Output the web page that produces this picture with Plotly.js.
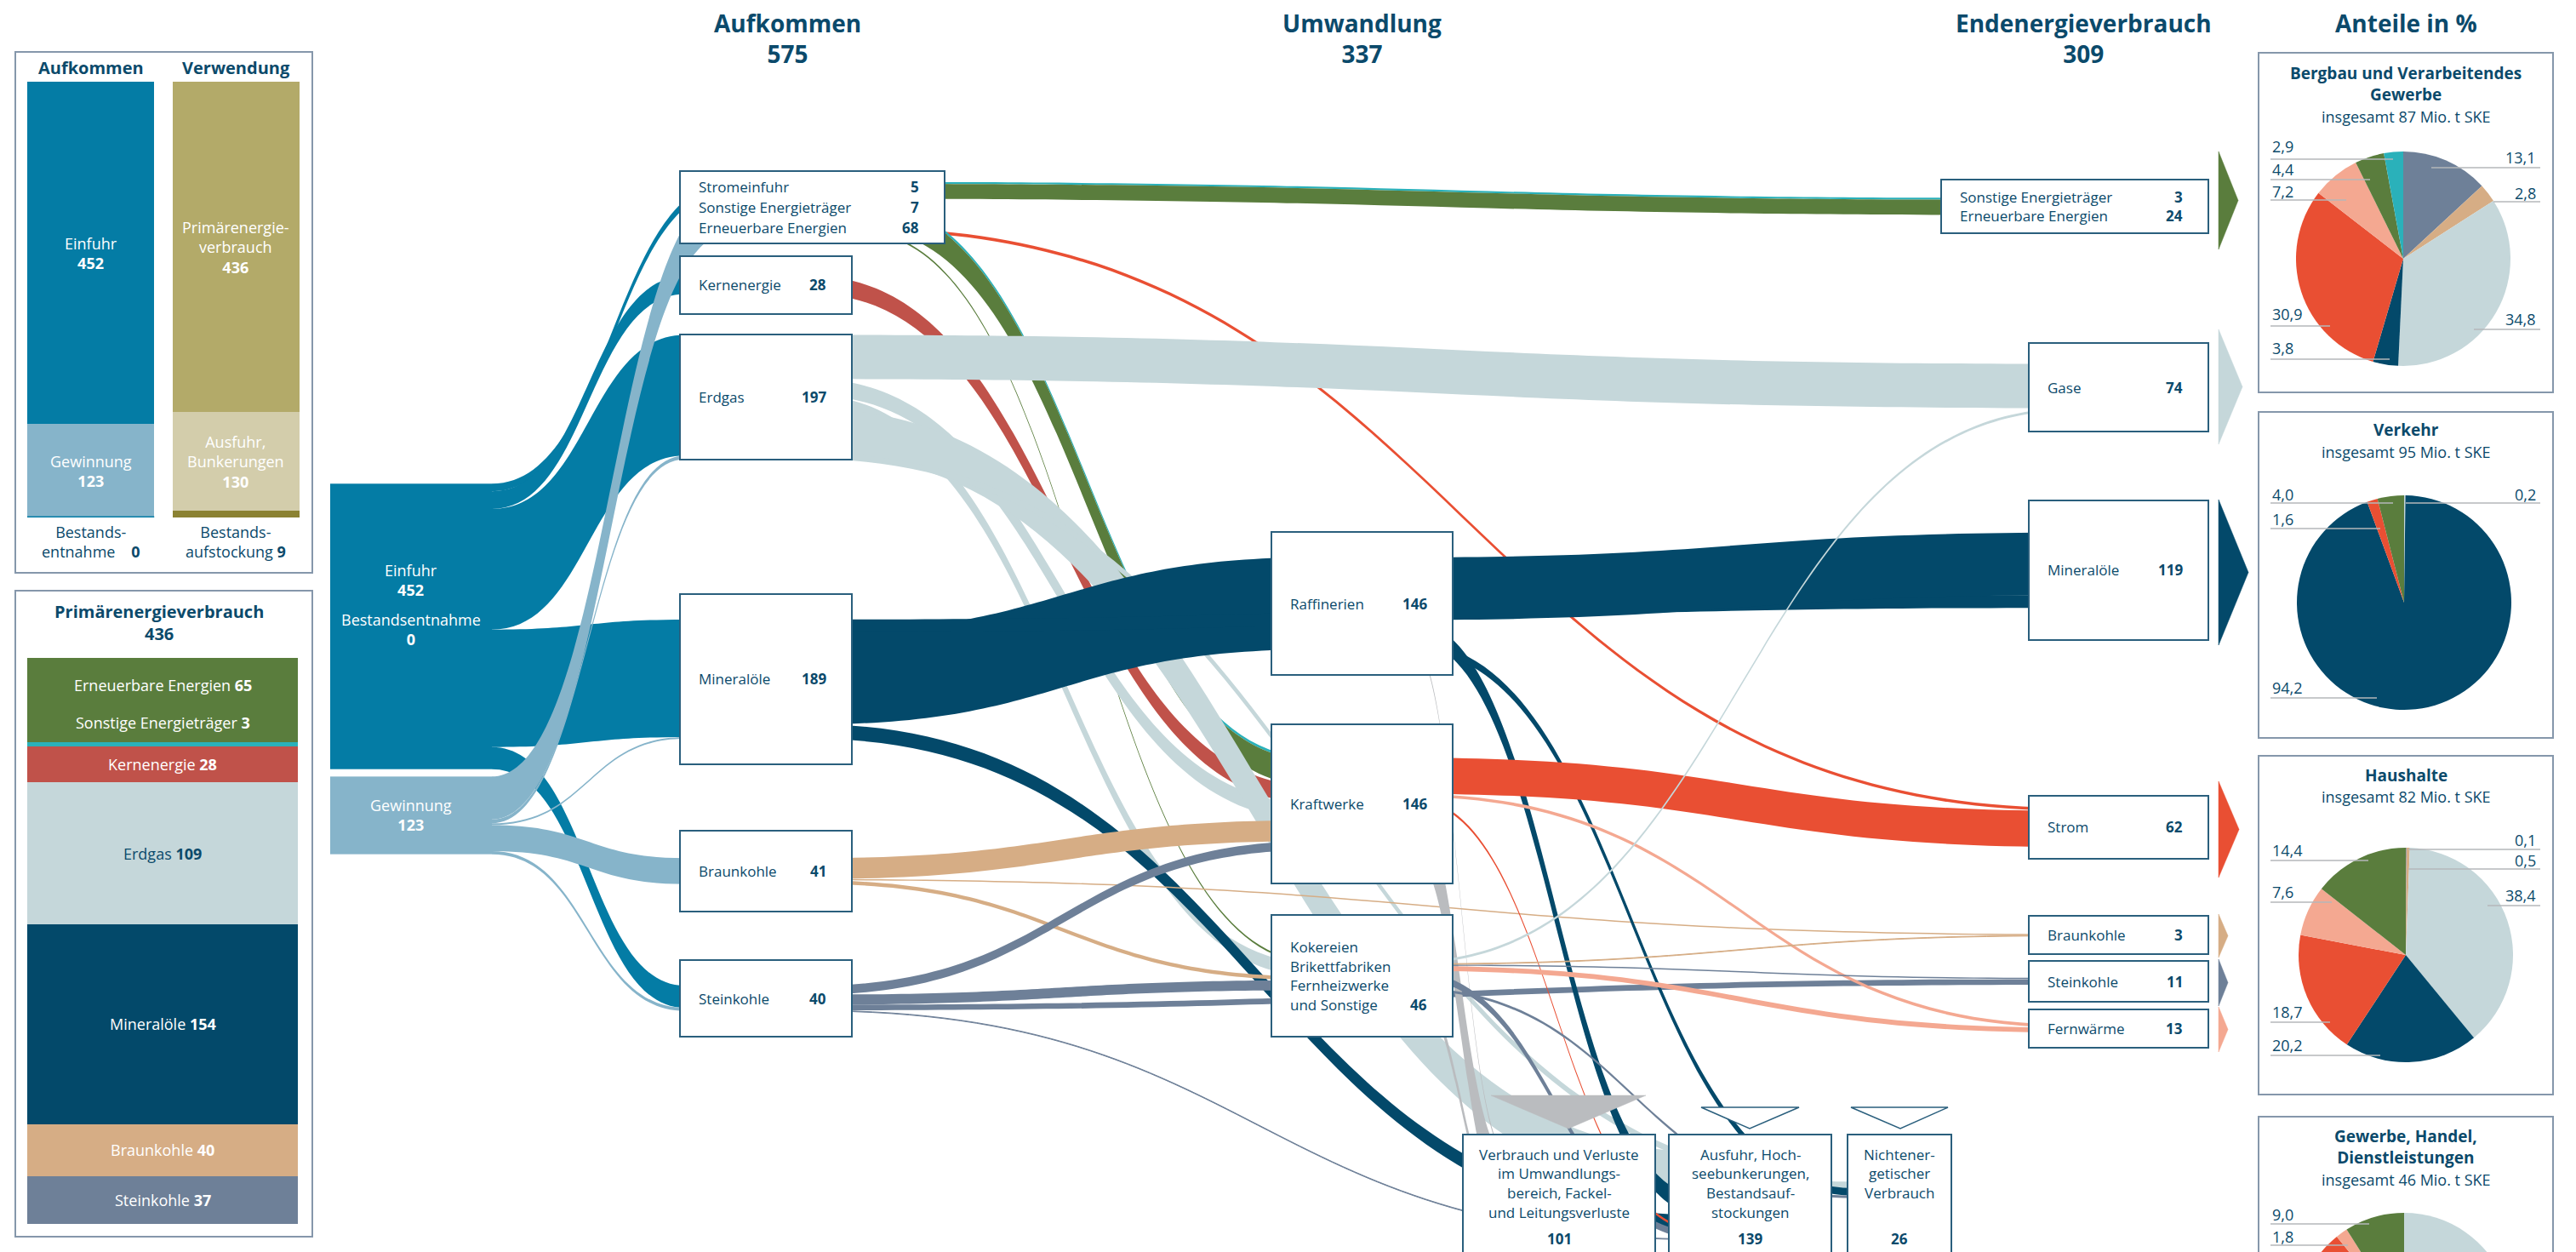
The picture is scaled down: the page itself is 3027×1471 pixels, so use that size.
<!DOCTYPE html>
<html><head><meta charset="utf-8">
<script src="https://cdn.plot.ly/plotly-3.0.1.min.js"></script>
<style>
html,body{margin:0;padding:0;background:#fff;overflow:hidden;}
#wrap{width:3027px;height:1471px;overflow:hidden;position:relative;}
#chart{width:3027px;height:1750px;}
</style></head>
<body><div id="wrap"><div id="chart"></div></div>
<script>
// ================= DATA (Mio. t SKE) =================
const balanceCats   = ['Aufkommen', 'Verwendung'];
const balanceBottom = [0, 9];        // Bestandsentnahme | Bestandsaufstockung
const balanceMiddle = [123, 130];    // Gewinnung | Ausfuhr, Bunkerungen
const balanceTop    = [452, 436];    // Einfuhr | Primärenergieverbrauch

const pevCarriers = ['Steinkohle','Braunkohle','Mineralöle','Erdgas','Kernenergie','Sonstige Energieträger','Erneuerbare Energien'];
const pevValues   = [37, 40, 154, 109, 28, 3, 65];
const pevTotal    = 436;

const stageTitles = ['Aufkommen','Umwandlung','Endenergieverbrauch'];
const stageTotals = [575, 337, 309];

const sourceLabels = ['Einfuhr','Gewinnung'];
const sourceValues = [452, 123];
const stockWithdrawal = 0;

const supplyLabels  = ['Stromeinfuhr','Sonstige Energieträger','Erneuerbare Energien'];
const supplyValues  = [5, 7, 68];
const primaryLabels = ['Kernenergie','Erdgas','Mineralöle','Braunkohle','Steinkohle'];
const primaryValues = [28, 197, 189, 41, 40];
const conversionLabels = ['Raffinerien','Kraftwerke','Kokereien\nBrikettfabriken\nFernheizwerke\nund Sonstige'];
const conversionValues = [146, 146, 46];
const finalMixLabels = ['Sonstige Energieträger','Erneuerbare Energien'];
const finalMixValues = [3, 24];
const finalLabels = ['Gase','Mineralöle','Strom','Braunkohle','Steinkohle','Fernwärme'];
const finalValues = [74, 119, 62, 3, 11, 13];
const otherUseLabels = ['Verbrauch und Verluste\nim Umwandlungs-\nbereich, Fackel-\nund Leitungsverluste',
                        'Ausfuhr, Hoch-\nseebunkerungen,\nBestandsauf-\nstockungen',
                        'Nichtener-\ngetischer\nVerbrauch'];
const otherUseValues = [101, 139, 26];

// energy flows
const flowFrom = ['einfuhr','einfuhr','einfuhr','einfuhr','einfuhr',
  'gewinnung','gewinnung','gewinnung','gewinnung','gewinnung',
  'box','box','box','box','box','box','kern',
  'erdgas','erdgas','erdgas','erdgas','erdgas',
  'mineral','mineral','mineral',
  'braun','braun','braun',
  'stein','stein','stein','stein',
  'raff','raff','raff','raff',
  'kraft','kraft','kraft','kraft',
  'kok','kok','kok','kok','kok','kok','kok'];
const flowTo = ['box','kern','erdgas','mineral','stein',
  'box','erdgas','mineral','braun','stein',
  'endSonst','endSonst','strom','kraft','kraft','kok','kraft',
  'gase','kraft','kok','ausf','nichtE',
  'raff','endMin','ausf',
  'kraft','kok','endBraun',
  'kraft','kok','endStein','ausf',
  'endMin','ausf','nichtE','verl',
  'strom','verl','fern','ausf',
  'fern','gase','endStein','endBraun','verl','nichtE','ausf'];
const flowValue = [12, 28, 191, 186, 35,
  68, 6, 3, 41, 5,
  3, 24, 5, 4, 41, 3, 28,
  70, 26, 21, 70, 10,
  146, 20, 23,
  33, 6, 2,
  14, 16, 9, 1,
  99, 30, 12, 5,
  57, 80, 5, 4,
  8, 4, 2, 1, 16, 4, 11];
const flowCarrier = ['einfuhr','einfuhr','einfuhr','einfuhr','einfuhr',
  'gewinnung','gewinnung','gewinnung','gewinnung','gewinnung',
  'sonst','ern','strom','sonst','ern','ern','kern',
  'gas','gas','gas','gas','gas',
  'oil','oil','oil',
  'braun','braun','braun',
  'stein','stein','stein','stein',
  'oil','oil','oil','loss',
  'strom','loss','fern','strom',
  'fern','gas','stein','braun','loss','stein','stein'];

// end-use shares in %
const sectorTitleLines = [['Bergbau und Verarbeitendes','Gewerbe'],['Verkehr'],['Haushalte'],['Gewerbe, Handel,','Dienstleistungen']];
const sectorTotals = [87, 95, 82, 46];
const shareCarriers = ['Steinkohle','Braunkohle','Gase','Mineralöle','Strom','Fernwärme','Erneuerbare Energien','Sonstige Energieträger'];
const sharesIndustry   = [13.1, 2.8, 34.8, 3.8, 30.9, 7.2, 4.4, 2.9];
const sharesTransport  = [0, 0, 0.2, 94.2, 1.6, 0, 4.0, 0];
const sharesHouseholds = [0.1, 0.5, 38.4, 20.2, 18.7, 7.6, 14.4, 0];
const sharesCommerce   = [0, 0, 39.0, 17.0, 33.2, 1.8, 9.0, 0];

// ================= STYLE / LAYOUT =================
const W = 3027, H = 1750;
const FONT = '"Open Sans", "Noto Sans", "DejaVu Sans", sans-serif';
const NAVY = '#0b4a6b';
const carrierColor = {einfuhr:'#047ca5', gewinnung:'#86b4ca', sonst:'#2ab1ba', ern:'#5a7d3d', strom:'#e94f33',
  kern:'#c0524a', gas:'#c5d7da', oil:'#03496a', braun:'#d6ad85', stein:'#6e8098', loss:'#babcbf', fern:'#f4a891'};
const shareColors = ['#6e8098','#d6ad85','#c5d7da','#03496a','#e94f33','#f4a891','#5a7d3d','#2ab1ba'];
const pevColors = ['#6e8098','#d6ad85','#03496a','#c5d7da','#c0524a','#2ab1ba','#5a7d3d'];
const pevTextColors = ['#fff','#fff','#fff',NAVY,'#fff','#fff','#fff'];

const boxGeom = {
  box:[799,1110,201,286], kern:[799,1001,301,369], erdgas:[799,1001,393,540], mineral:[799,1001,698,898],
  braun:[799,1001,976,1071], stein:[799,1001,1128,1218],
  raff:[1494,1707,625,793], kraft:[1494,1707,851,1038], kok:[1494,1707,1075,1218],
  endSonst:[2281,2595,211,274], gase:[2384,2595,403,507], endMin:[2384,2595,588,752], strom:[2384,2595,935,1009],
  endBraun:[2384,2595,1076,1121], endStein:[2384,2595,1129,1177], fern:[2384,2595,1186,1231],
  verl:[1719,1945,1333,1520], ausf:[1961,2152,1333,1520], nichtE:[2171,2293,1333,1520]
};
const sourceCenter = {einfuhr:[483,736], gewinnung:[483,958]};
const sourceColor = {einfuhr:'#047ca5', gewinnung:'#86b4ca'};
const sinkCenterY = {verl:1400, ausf:1405, nichtE:1398};
const SY0 = 180, SY1 = 1460;

function center(k){
  if (sourceCenter[k]) return sourceCenter[k];
  const g = boxGeom[k];
  return [(g[0]+g[1])/2, (sinkCenterY[k] !== undefined) ? sinkCenterY[k] : (g[2]+g[3])/2];
}
const X = x => x / W, Y = y => 1 - y / H;

function sankeyTrace(keys, thickness, maxColumn){
  const idx = {}; keys.forEach((k,i)=>idx[k]=i);
  const s=[], t=[], v=[], c=[];
  flowFrom.forEach((f,i)=>{
    if (idx[f] !== undefined && idx[flowTo[i]] !== undefined && !(f in sourceCenter && !keys.includes('einfuhr')) ) {
      s.push(idx[f]); t.push(idx[flowTo[i]]); v.push(flowValue[i]); c.push(carrierColor[flowCarrier[i]]);
    }
  });
  const SH = SY1 - SY0;
  return {
    type:'sankey', arrangement:'fixed', orientation:'h', hoverinfo:'none',
    domain:{x:[0,1], y:[1-SY1/H, 1-SY0/H]},
    node:{ label: keys.map(()=>''), x: keys.map(k=>center(k)[0]/W), y: keys.map(k=>(center(k)[1]-SY0)/SH),
      thickness: thickness, pad: 2/3*SH/(maxColumn-1),
      color: keys.map(k=>sourceColor[k] || 'rgba(255,255,255,0)'), line:{width:0}, hoverinfo:'none' },
    link:{ source:s, target:t, value:v, color:c, line:{width:0}, hoverinfo:'none' }
  };
}

const keysA = ['einfuhr','gewinnung','box','kern','erdgas','mineral','braun','stein'];
const keysB = ['box','kern','erdgas','mineral','braun','stein','raff','kraft','kok','endSonst','gase','endMin','strom','endBraun','endStein','fern','verl','ausf','nichtE'];

const traces = [];
// Left panel 1: Aufkommen / Verwendung
[[balanceBottom,['#047ca5','#8b8232']],[balanceMiddle,['#86b4ca','#d3cdab']],[balanceTop,['#047ca5','#b3aa69']]].forEach(([vals,cols])=>{
  traces.push({type:'bar', x:balanceCats, y:vals, width:0.874, marker:{color:cols, line:{width:0}}, xaxis:'x', yaxis:'y', hoverinfo:'none', showlegend:false});
});
// Left panel 2: Primärenergieverbrauch
pevValues.forEach((v,i)=>{
  traces.push({type:'bar', x:['PEV'], y:[v], width:1, marker:{color:pevColors[i], line:{width:0}}, xaxis:'x2', yaxis:'y2', hoverinfo:'none', showlegend:false, name:pevCarriers[i]});
});
// Flow diagram
traces.push(sankeyTrace(keysA, 190, 6));
traces.push(sankeyTrace(keysB, 110, 10));
// Pies
const pieCenters = [[2824,304],[2825,708],[2827,1122],[2825,1551]];
const R = 126;
[sharesIndustry, sharesTransport, sharesHouseholds, sharesCommerce].forEach((vals,i)=>{
  const [cx,cy] = pieCenters[i];
  traces.push({type:'pie', values:vals, labels:shareCarriers, sort:false, direction:'clockwise', rotation:0,
    marker:{colors:shareColors, line:{width:0}}, textinfo:'none', hoverinfo:'none', showlegend:false,
    domain:{x:[X(cx-R), X(cx+R)], y:[Y(cy+R), Y(cy-R)]}});
});

// ================= ANNOTATIONS =================
const ann = [];
function A(text, x, y, o){
  o = o || {};
  return {text:text, x:X(x), y:Y(y), xref:'paper', yref:'paper', showarrow:false,
    xanchor:o.xanchor||'center', yanchor:'middle', align:o.align||'center',
    font:{family:FONT, size:o.size||17, color:o.color||NAVY}};
}
function D(text, xref, yref, x, y, o){
  o = o || {};
  return {text:text, x:x, y:y, xref:xref, yref:yref, showarrow:false, xanchor:'center', yanchor:'middle', align:'center',
    font:{family:FONT, size:o.size||18, color:o.color||'#fff'}};
}
const b = s => '<b>' + s + '</b>';
const fmt = v => v.toFixed(1).replace('.', ',');

// headers
[[925],[1600],[2448]].forEach((p,i)=>ann.push(A(b(stageTitles[i]+'<br>'+stageTotals[i]), p[0], 45, {size:28})));
ann.push(A(b('Anteile in %'), 2827, 27, {size:28}));

// panel 1
ann.push(A(b(balanceCats[0]), 106.5, 79, {size:20}));
ann.push(A(b(balanceCats[1]), 277, 79, {size:20}));
ann.push(D('Einfuhr<br>'+b(balanceTop[0]), 'x', 'y', 0, balanceMiddle[0]+balanceTop[0]/2));
ann.push(D('Gewinnung<br>'+b(balanceMiddle[0]), 'x', 'y', 0, balanceBottom[0]+balanceMiddle[0]/2));
ann.push(D('Primärenergie-<br>verbrauch<br>'+b(balanceTop[1]), 'x', 'y', 1, balanceBottom[1]+balanceMiddle[1]+balanceTop[1]/2));
ann.push(D('Ausfuhr,<br>Bunkerungen<br>'+b(balanceMiddle[1]), 'x', 'y', 1, balanceBottom[1]+balanceMiddle[1]/2));
ann.push(A('Bestands-<br>entnahme\u00a0\u00a0\u00a0\u00a0'+b(balanceBottom[0]), 106.5, 636, {size:18}));
ann.push(A('Bestands-<br>aufstockung '+b(balanceBottom[1]), 277, 636, {size:18}));

// panel 2
ann.push(A(b('Primärenergieverbrauch<br>'+pevTotal), 187, 731, {size:20}));
let cum = 0;
pevValues.forEach((v,i)=>{
  let yv = cum + v/2;
  if (pevCarriers[i] === 'Erneuerbare Energien') yv = cum + v*0.68;
  if (pevCarriers[i] === 'Sonstige Energieträger') yv = cum + v + 15;
  ann.push(D(pevCarriers[i]+' '+b(v), 'x2', 'y2', 0, yv, {size:18, color:pevTextColors[i]}));
  cum += v;
});

// source block labels
ann.push(A(sourceLabels[0]+'<br>'+b(sourceValues[0]), 483, 681, {size:18, color:'#fff'}));
ann.push(A('Bestandsentnahme<br>'+b(stockWithdrawal), 483, 740, {size:18, color:'#fff'}));
ann.push(A(sourceLabels[1]+'<br>'+b(sourceValues[1]), 483, 958, {size:18, color:'#fff'}));

// box labels
function rows(key, names, vals, spacing){
  const g = boxGeom[key], cy = (g[2]+g[3])/2, n = names.length;
  names.forEach((nm,i)=>{
    const y = cy + (i-(n-1)/2)*spacing;
    ann.push(A(nm, g[0]+20, y, {xanchor:'left'}));
    ann.push(A(b(vals[i]), g[1]-28, y, {xanchor:'right'}));
  });
}
rows('box', supplyLabels, supplyValues, 24);
['kern','erdgas','mineral','braun','stein'].forEach((k,i)=>rows(k,[primaryLabels[i]],[primaryValues[i]],0));
rows('raff',[conversionLabels[0]],[conversionValues[0]],0);
rows('kraft',[conversionLabels[1]],[conversionValues[1]],0);
(function(){
  const g = boxGeom.kok, lines = conversionLabels[2].split('\n'), cy=(g[2]+g[3])/2;
  lines.forEach((ln,i)=>{
    const y = cy + (i-(lines.length-1)/2)*22.5;
    ann.push(A(ln, g[0]+20, y, {xanchor:'left'}));
    if (i === lines.length-1) ann.push(A(b(conversionValues[2]), g[1]-28, y, {xanchor:'right'}));
  });
})();
rows('endSonst', finalMixLabels, finalMixValues, 23);
['gase','endMin','strom','endBraun','endStein','fern'].forEach((k,i)=>rows(k,[finalLabels[i]],[finalValues[i]],0));
['verl','ausf','nichtE'].forEach((k,i)=>{
  const g = boxGeom[k], cx=(g[0]+g[1])/2;
  otherUseLabels[i].split('\n').forEach((ln,j)=>ann.push(A(ln, cx, 1356+j*22.7)));
  ann.push(A(b(otherUseValues[i]), cx, 1455));
});

// pie titles
const titleY = [86, 505, 911, 1335], subY = [137, 531, 936, 1386];
sectorTitleLines.forEach((lines,i)=>{
  ann.push(A(b(lines.join('<br>')), 2827, titleY[i] + (lines.length-1)*12.5, {size:19}));
  ann.push(A('insgesamt '+sectorTotals[i]+' Mio. t SKE', 2827, subY[i], {size:18}));
});

// ================= SHAPES =================
const shapes = [];
function rect(x0,y0,x1,y1,lineColor,fill,lw){
  shapes.push({type:'rect', xref:'paper', yref:'paper', x0:X(x0), x1:X(x1), y0:Y(y1), y1:Y(y0),
    fillcolor:fill, line:{color:lineColor, width:lw}, layer:'above'});
}
function line(x0,y0,x1,y1,color,w){
  shapes.push({type:'line', xref:'paper', yref:'paper', x0:X(x0), x1:X(x1), y0:Y(y0), y1:Y(y1), line:{color:color, width:w}, layer:'above'});
}
function poly(pts, fill, lineColor, lw){
  const d = pts.map((p,i)=>(i?'L':'M')+X(p[0])+','+Y(p[1])).join(' ') + ' Z';
  shapes.push({type:'path', xref:'paper', yref:'paper', path:d, fillcolor:fill, line:{color:lineColor, width:lw}, layer:'above'});
}
// panels
rect(18,61,367,673,'#8597ab','rgba(0,0,0,0)',2);
rect(18,694,367,1453,'#8597ab','rgba(0,0,0,0)',2);
shapes.push({type:'line', xref:'x', yref:'y', x0:-0.437, x1:0.437, y0:0, y1:0, line:{color:'#047ca5', width:3}, layer:'above'});
// flow boxes
Object.keys(boxGeom).forEach(k=>{ const g=boxGeom[k]; rect(g[0],g[2],g[1],g[3],'#2a5f7d','#ffffff',2); });
// chevrons at final energy boxes
[['endSonst',178,293,2630,'ern'],['gase',387,522,2635,'gas'],['endMin',587,758,2642,'oil'],['strom',918,1031,2631,'strom'],
 ['endBraun',1074,1125,2618,'braun'],['endStein',1127,1182,2618,'stein'],['fern',1183,1236,2618,'fern']].forEach(c=>{
  poly([[2607,c[1]],[c[3],(c[1]+c[2])/2],[2607,c[2]]], carrierColor[c[4]], carrierColor[c[4]], 0.5);
});
// arrows into the lower boxes
poly([[1752,1287],[1934,1287],[1843,1326]], carrierColor.loss, carrierColor.loss, 0.5);
poly([[1999,1301],[2114,1301],[2056,1326]], '#ffffff', '#2a5f7d', 1.5);
poly([[2175,1301],[2289,1301],[2233,1326]], '#ffffff', '#2a5f7d', 1.5);
// pie frames
[[62,461],[484,867],[888,1286],[1312,1700]].forEach(p=>rect(2654,p[0],3000,p[1],'#8597ab','rgba(0,0,0,0)',2));
// pie labels with leader lines: [side, textY, lineY, innerX]
const pieLabelPos = [
  [['r',185,197,2857],['r',227,237,2930],['r',375,387,2907],['l',409,422,2808],['l',369,383,2738],['l',225,235,2757],['l',199,211,2785],['l',172,187,2812]],
  [null,null,['r',581,591,2827],['l',808,820,2793],['l',610,621,2797],null,['l',581,591,2812],null],
  [['r',987,998,2830],['r',1011,1021,2830],['r',1052,1064,2923],['l',1228,1240,2797],['l',1189,1201,2738],['l',1048,1060,2740],['l',999,1011,2783],null],
  [null,null,null,null,null,['l',1453,1463,2759],['l',1427,1438,2784],null]
];
[sharesIndustry, sharesTransport, sharesHouseholds, sharesCommerce].forEach((vals,i)=>{
  pieLabelPos[i].forEach((p,j)=>{
    if (!p) return;
    if (p[0] === 'l') { ann.push(A(fmt(vals[j]), 2668, p[1], {xanchor:'left', size:18})); line(2668,p[2],p[3],p[2],'#b4b7ba',1.3); }
    else { ann.push(A(fmt(vals[j]), 2982, p[1], {xanchor:'right', size:18})); line(p[3],p[2],2985,p[2],'#b4b7ba',1.3); }
  });
});

const layout = {
  width:W, height:H, margin:{l:0,r:0,t:0,b:0}, paper_bgcolor:'#ffffff', plot_bgcolor:'rgba(0,0,0,0)',
  font:{family:FONT, color:NAVY}, showlegend:false, barmode:'stack', bargap:0,
  xaxis:{domain:[X(21.25), X(362.75)], range:[-0.5,1.5], visible:false, fixedrange:true, anchor:'y'},
  yaxis:{domain:[Y(608), Y(96)], range:[0,575], visible:false, fixedrange:true, anchor:'x'},
  xaxis2:{domain:[X(32), X(350)], range:[-0.5,0.5], visible:false, fixedrange:true, anchor:'y2'},
  yaxis2:{domain:[Y(1438), Y(773)], range:[0,pevTotal], visible:false, fixedrange:true, anchor:'x2'},
  annotations:ann, shapes:shapes
};
Plotly.newPlot('chart', traces, layout, {staticPlot:true, displayModeBar:false});
</script>
</body></html>
